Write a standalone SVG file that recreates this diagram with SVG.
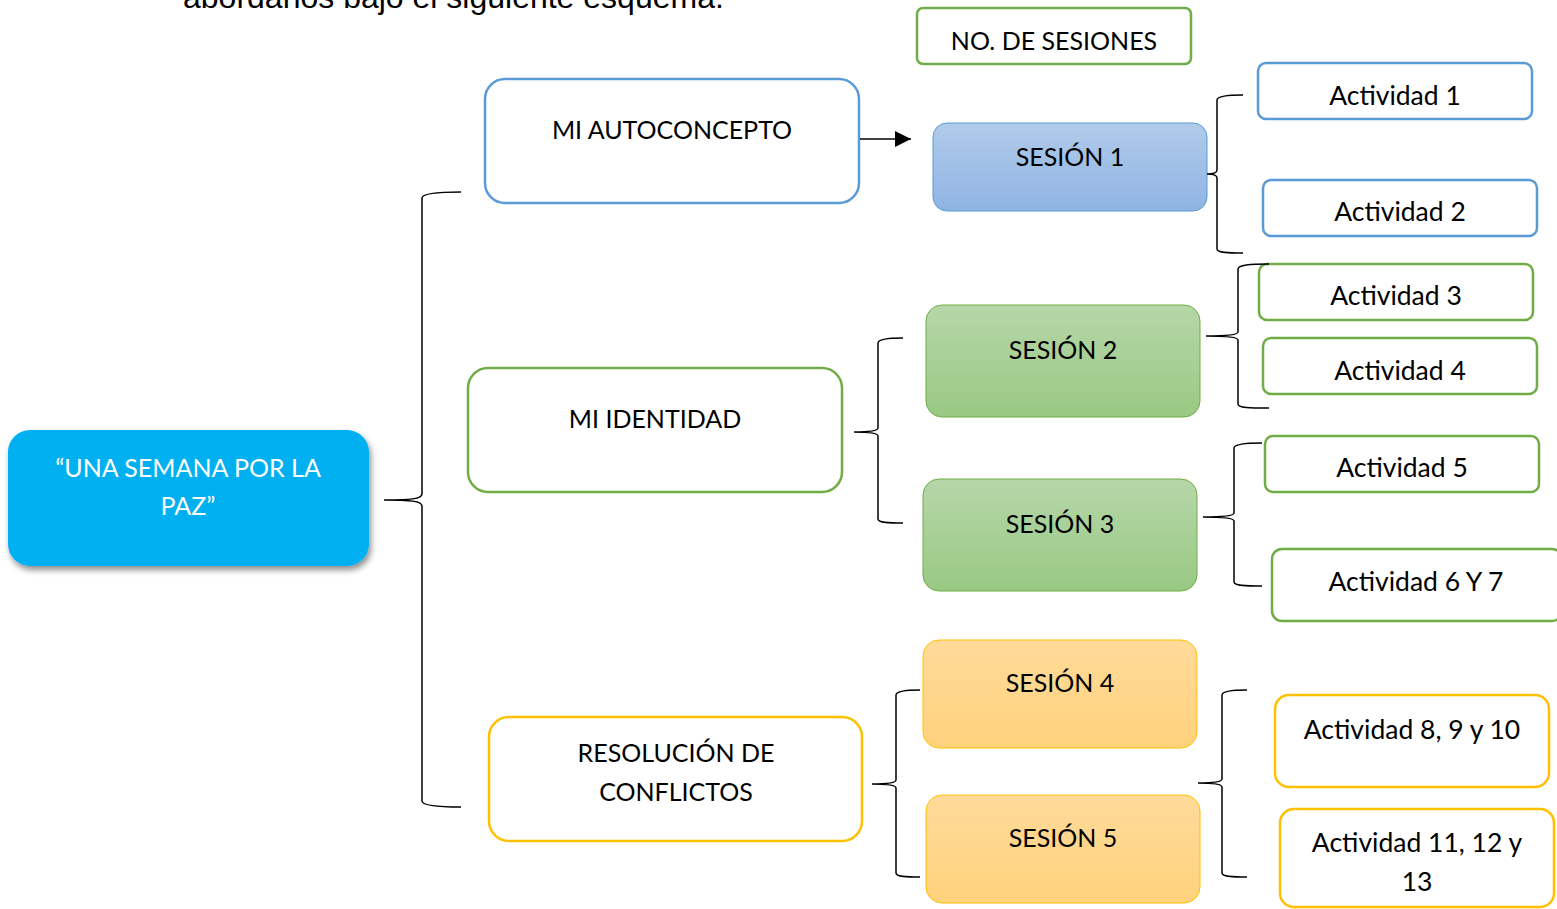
<svg xmlns="http://www.w3.org/2000/svg" width="1557" height="909" viewBox="0 0 1557 909">
<defs>
<linearGradient id="gBlue" x1="0" y1="0" x2="0" y2="1"><stop offset="0" stop-color="#B1CBEA"/><stop offset="1" stop-color="#8FB4E3"/></linearGradient>
<linearGradient id="gGreen" x1="0" y1="0" x2="0" y2="1"><stop offset="0" stop-color="#B6D7A9"/><stop offset="1" stop-color="#99C983"/></linearGradient>
<linearGradient id="gOrange" x1="0" y1="0" x2="0" y2="1"><stop offset="0" stop-color="#FFDA9A"/><stop offset="1" stop-color="#FFD27C"/></linearGradient>
<filter id="shadow" x="-10%" y="-10%" width="125%" height="135%"><feDropShadow dx="2" dy="4" stdDeviation="3" flood-color="#000" flood-opacity="0.45"/></filter>
<marker id="arrow" viewBox="0 0 10 10" refX="10" refY="5" markerWidth="16" markerHeight="16" markerUnits="userSpaceOnUse" orient="auto"><path d="M0,0 L10,5 L0,10 z" fill="#000"/></marker>
</defs>
<style>
.t{font-family:"Lato","Liberation Sans",sans-serif;font-size:25px;fill:#000;text-anchor:middle;dominant-baseline:central}
.a{font-size:26.5px}
.w{fill:#fff}
.blue{fill:#fff;stroke:#5B9BD5;stroke-width:2.5}
.green{fill:#fff;stroke:#70AD47;stroke-width:2.5}
.orange{fill:#fff;stroke:#FFC000;stroke-width:2.5}
.br{fill:none;stroke:#000;stroke-width:1.5}
</style>
<text x="183" y="8" style="font-family:'Liberation Sans',Arial,sans-serif;font-size:32px;fill:#000">abordanos bajo el siguiente esquema.</text>

<g id="root"><rect x="8" y="430" width="361" height="136" rx="22" fill="#00B0F0" filter="url(#shadow)"/><text class="t w" x="188" y="467">“UNA SEMANA POR LA</text><text class="t w" x="188" y="505">PAZ”</text></g>
<g id="autoconcepto"><rect class="blue" x="485" y="79" width="374" height="124" rx="20"/><text class="t" x="672" y="129">MI AUTOCONCEPTO</text></g>
<g id="identidad"><rect class="green" x="468" y="368" width="374" height="124" rx="20"/><text class="t" x="655" y="418">MI IDENTIDAD</text></g>
<g id="resolucion"><rect class="orange" x="489" y="717" width="373" height="124" rx="20"/><text class="t" x="676" y="752">RESOLUCIÓN DE</text><text class="t" x="676" y="791">CONFLICTOS</text></g>
<g id="nosesiones"><rect class="green" x="917" y="8" width="274" height="56" rx="6"/><text class="t" x="1054" y="40">NO. DE SESIONES</text></g>
<g id="sesion1"><rect x="933" y="123" width="274" height="88" rx="14" fill="url(#gBlue)" stroke="#5B9BD5" stroke-width="1"/><text class="t" x="1070" y="156">SESIÓN 1</text></g>
<g id="sesion2"><rect x="926" y="305" width="274" height="112" rx="16" fill="url(#gGreen)" stroke="#70AD47" stroke-width="1"/><text class="t" x="1063" y="349">SESIÓN 2</text></g>
<g id="sesion3"><rect x="923" y="479" width="274" height="112" rx="16" fill="url(#gGreen)" stroke="#70AD47" stroke-width="1"/><text class="t" x="1060" y="523">SESIÓN 3</text></g>
<g id="sesion4"><rect x="923" y="640" width="274" height="108" rx="16" fill="url(#gOrange)" stroke="#FFC000" stroke-width="1"/><text class="t" x="1060" y="682">SESIÓN 4</text></g>
<g id="sesion5"><rect x="926" y="795" width="274" height="108" rx="16" fill="url(#gOrange)" stroke="#FFC000" stroke-width="1"/><text class="t" x="1063" y="837">SESIÓN 5</text></g>
<g id="act1"><rect class="blue" x="1258" y="63" width="274" height="56" rx="8"/><text class="t a" x="1395" y="95">Actividad 1</text></g>
<g id="act2"><rect class="blue" x="1263" y="180" width="274" height="56" rx="8"/><text class="t a" x="1400" y="211">Actividad 2</text></g>
<g id="act3"><rect class="green" x="1259" y="264" width="274" height="56" rx="8"/><text class="t a" x="1396" y="295">Actividad 3</text></g>
<g id="act4"><rect class="green" x="1263" y="338" width="274" height="56" rx="8"/><text class="t a" x="1400" y="370">Actividad 4</text></g>
<g id="act5"><rect class="green" x="1265" y="436" width="274" height="56" rx="8"/><text class="t a" x="1402" y="467">Actividad 5</text></g>
<g id="act67"><rect class="green" x="1272" y="549" width="290" height="72" rx="10"/><text class="t a" x="1416" y="581">Actividad 6 Y 7</text></g>
<g id="act8910"><rect class="orange" x="1275" y="695" width="274" height="92" rx="14"/><text class="t a" x="1412" y="729">Actividad 8, 9 y 10</text></g>
<g id="act111213"><rect class="orange" x="1280" y="809" width="274" height="98" rx="14"/><text class="t a" x="1417" y="842">Actividad 11, 12 y</text><text class="t a" x="1417" y="881">13</text></g>

<g id="connectors">
<line x1="860" y1="139" x2="911" y2="139" stroke="#000" stroke-width="1.5" marker-end="url(#arrow)"/>
<path class="br" d="M461,192 C440,192 422,193 422,198 L422,494 C422,499 410,500 384,500 C410,500 422,501 422,506 L422,801 C422,806 440,807 461,807"/>
<path class="br" d="M1243,95 C1230,95 1217,96 1217,100 L1217,170 C1217,173 1212,174 1207,174 C1212,174 1217,175 1217,178 L1217,249 C1217,253 1230,253 1243,253"/>
<path class="br" d="M1269,264 C1250,264 1238,265 1238,269 L1238,332 C1238,335 1222,336 1206,336 C1222,336 1238,337 1238,340 L1238,404 C1238,408 1250,408 1269,408"/>
<path class="br" d="M903,338 C890,338 878,339 878,343 L878,428 C878,431 866,432 854,432 C866,432 878,433 878,436 L878,519 C878,523 890,523 903,523"/>
<path class="br" d="M1262,443 C1248,443 1234,444 1234,448 L1234,513 C1234,516 1218,517 1203,517 C1218,517 1234,518 1234,521 L1234,582 C1234,586 1248,586 1262,586"/>
<path class="br" d="M920,690 C908,690 896,691 896,695 L896,780 C896,783 884,784 872,784 C884,784 896,785 896,788 L896,873 C896,877 908,877 920,877"/>
<path class="br" d="M1247,690 C1235,690 1222,691 1222,695 L1222,779 C1222,782 1210,783 1198,783 C1210,783 1222,784 1222,787 L1222,873 C1222,877 1235,877 1247,877"/>
</g>
</svg>
